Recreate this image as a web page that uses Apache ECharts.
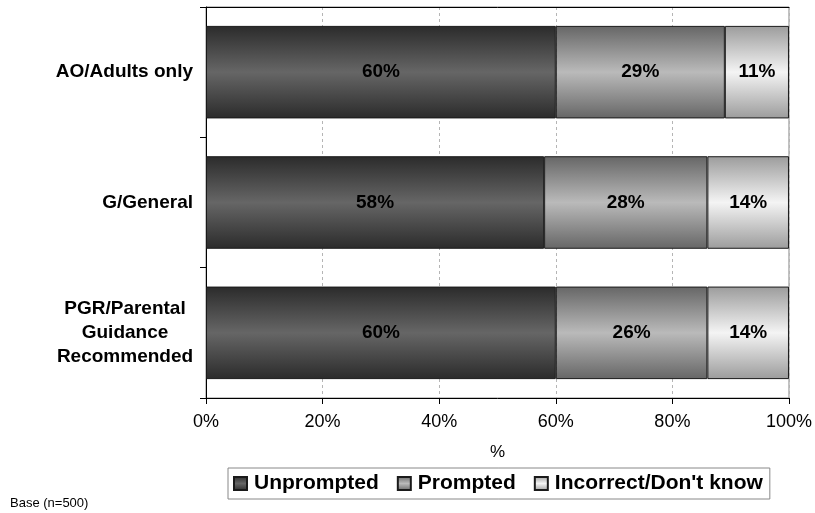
<!DOCTYPE html>
<html>
<head>
<meta charset="utf-8">
<script src="https://cdn.jsdelivr.net/npm/echarts@6/dist/echarts.min.js"></script>
<style>
  html, body { margin: 0; padding: 0; background: #fff; }
  #chart { width: 815px; height: 513px; }
</style>
</head>
<body>
<div id="chart"></div>
<script>
// Classification categories, top to bottom
const categories = ['AO/Adults only', 'G/General', 'PGR/Parental Guidance Recommended'];
// Share of respondents (%) per recall type
const unprompted = [60, 58, 60];
const prompted = [29, 28, 26];
const incorrect = [11, 14, 14];
const seriesNames = ['Unprompted', 'Prompted', "Incorrect/Don't know"];
const xTicks = [0, 20, 40, 60, 80, 100];

const FONT = '"Liberation Sans", Arial, Helvetica, sans-serif';

function shade(edge, mid) {
  return new echarts.graphic.LinearGradient(0, 0, 0, 1, [
    { offset: 0, color: edge },
    { offset: 0.5, color: mid },
    { offset: 1, color: edge }
  ]);
}
const fills = [
  shade('#2b2b2b', '#666666'),
  shade('#666666', '#bababa'),
  shade('#9c9c9c', '#f4f4f4')
];

function barSeries(name, values, fill) {
  return {
    name: name,
    type: 'bar',
    stack: 'total',
    barWidth: '71%',
    data: values,
    itemStyle: { color: fill, borderColor: '#1a1a1a', borderWidth: 1 },
    label: {
      show: true,
      position: 'inside',
      formatter: p => p.value + '%',
      color: '#000',
      fontFamily: FONT,
      fontWeight: 'bold',
      fontSize: 19
    },
    emphasis: { disabled: true }
  };
}

const chart = echarts.init(document.getElementById('chart'), null, { renderer: 'canvas' });
chart.setOption({
  animation: false,
  backgroundColor: '#fff',
  grid: {
    left: 206, right: 25, top: 7, bottom: 115,
    show: true, borderColor: '#8a8a8a', borderWidth: 1, backgroundColor: 'transparent'
  },
  legend: {
    data: seriesNames,
    left: 228, top: 468,
    orient: 'horizontal',
    borderColor: '#888', borderWidth: 1,
    padding: [5, 7, 5, 5],
    itemGap: 18,
    itemWidth: 13, itemHeight: 13,
    icon: 'rect',
    textStyle: { fontFamily: FONT, fontWeight: 'bold', fontSize: 21, color: '#000', padding: [0, 0, 0, 2] }
  },
  xAxis: [{
    type: 'value',
    min: 0, max: 100, interval: 20,
    name: '%',
    nameLocation: 'middle',
    nameGap: 46,
    nameTextStyle: { fontFamily: FONT, fontSize: 17, color: '#000' },
    axisLine: { show: true, lineStyle: { color: '#000', width: 1 } },
    axisTick: { show: true, length: 6, lineStyle: { color: '#000' } },
    axisLabel: {
      margin: 15,
      formatter: v => (xTicks.indexOf(v) >= 0 ? v + '%' : ''),
      fontFamily: FONT, fontSize: 18, color: '#000'
    },
    splitLine: { show: true, lineStyle: { color: '#b5b5b5', type: [3, 3] } }
  }, {
    type: 'value',
    position: 'top',
    min: 0, max: 100,
    axisLine: { show: true, lineStyle: { color: '#000', width: 1 } },
    axisTick: { show: false },
    axisLabel: { show: false },
    splitLine: { show: false }
  }],
  yAxis: {
    type: 'category',
    inverse: true,
    data: categories,
    axisLine: { show: true, lineStyle: { color: '#000', width: 1 } },
    axisTick: { show: true, length: 6, lineStyle: { color: '#000' } },
    axisLabel: {
      margin: 13,
      fontFamily: FONT, fontWeight: 'bold', fontSize: 19, color: '#000',
      formatter: function (v) {
        if (v.indexOf('PGR') === 0) {
          return '{c|PGR/Parental}\n{c|Guidance}\n{c|Recommended}';
        }
        return v;
      },
      rich: {
        c: {
          width: 136, align: 'center', lineHeight: 24,
          fontFamily: FONT, fontWeight: 'bold', fontSize: 19, color: '#000'
        }
      }
    }
  },
  series: [
    barSeries(seriesNames[0], unprompted, fills[0]),
    barSeries(seriesNames[1], prompted, fills[1]),
    barSeries(seriesNames[2], incorrect, fills[2])
  ],
  graphic: [{
    type: 'text',
    left: 10, top: 497,
    style: { text: 'Base (n=500)', fontFamily: FONT, fontSize: 13, fill: '#000' }
  }]
});
</script>
</body>
</html>
